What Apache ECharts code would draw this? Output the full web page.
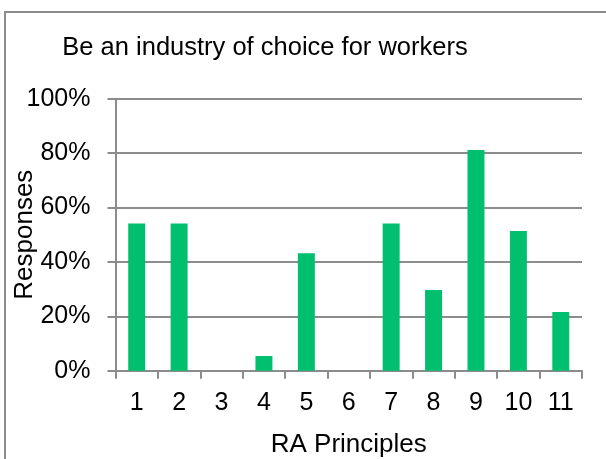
<!DOCTYPE html>
<html>
<head>
<meta charset="utf-8">
<script src="https://cdn.jsdelivr.net/npm/echarts@6/dist/echarts.min.js"></script>
<style>
  html, body { margin: 0; padding: 0; background: #fff; }
  #chart { width: 606px; height: 459px; }
</style>
</head>
<body>
<div id="chart"></div>
<script>
// RA principle numbers on the x axis
const principles = ["1", "2", "3", "4", "5", "6", "7", "8", "9", "10", "11"];
// share of responses, percent
const responses = [54.1, 54.1, 0, 5.4, 43.2, 0, 54.1, 29.7, 81.1, 51.4, 21.6];
const yTicks = [0, 20, 40, 60, 80, 100];

const chart = echarts.init(document.getElementById("chart"));
const font = "Liberation Sans, Arial, sans-serif";

const option = {
  animation: false,
  title: {
    text: "Be an industry of choice for workers",
    left: 260,
    textAlign: "center",
    top: 30,
    textStyle: { fontFamily: font, fontSize: 25.5, fontWeight: "normal", color: "#000" },
  },
  // outer chart frame
  graphic: [
    {
      type: "rect",
      shape: { x: 5, y: 12, width: 640, height: 500 },
      style: { fill: "none", stroke: "#8c8c8c", lineWidth: 2 },
    },
  ],
  grid: { left: 115.5, right: 24, top: 98.7, bottom: 88.3, outerBoundsMode: "none", containLabel: false },
  xAxis: {
    type: "category",
    data: principles,
    name: "RA Principles",
    nameLocation: "middle",
    nameGap: 61,
    nameMoveOverlap: false,
    nameTextStyle: { fontFamily: font, fontSize: 26, color: "#000" },
    axisLine: { lineStyle: { color: "#8c8c8c", width: 2 } },
    axisTick: { show: true, length: 8, lineStyle: { color: "#8c8c8c", width: 2 } },
    axisLabel: { fontFamily: font, fontSize: 25, color: "#000", margin: 20, interval: 0 },
  },
  yAxis: {
    type: "value",
    min: yTicks[0],
    max: yTicks[yTicks.length - 1],
    interval: 20,
    name: "Responses",
    nameLocation: "middle",
    nameGap: 78,
    nameMoveOverlap: false,
    nameTextStyle: { fontFamily: font, fontSize: 26, color: "#000" },
    axisLine: { show: true, lineStyle: { color: "#8c8c8c", width: 2 } },
    axisTick: { show: true, length: 8, lineStyle: { color: "#8c8c8c", width: 2 } },
    axisLabel: { fontFamily: font, fontSize: 25, color: "#000", margin: 25, formatter: "{value}%" },
    splitLine: { lineStyle: { color: "#8c8c8c", width: 2 } },
  },
  series: [
    {
      type: "bar",
      data: responses,
      barWidth: "40%",
      itemStyle: { color: "#00bf6f" },
    },
  ],
};
chart.setOption(option);
</script>
</body>
</html>
